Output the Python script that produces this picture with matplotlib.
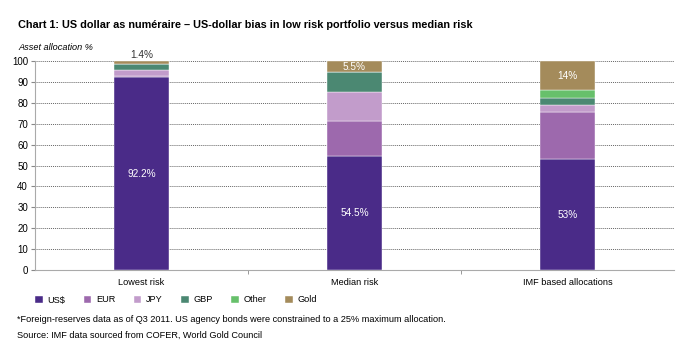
import matplotlib
matplotlib.use("Agg")
import matplotlib.pyplot as plt
import numpy as np

categories = ["Lowest risk", "Median risk", "IMF based allocations"]
series_names = ["US$", "EUR", "JPY", "GBP", "Other", "Gold"]
usd = [92.2, 54.5, 53.0]
eur = [0.6, 16.7, 22.5]
jpy = [2.7, 14.0, 3.5]
gbp = [3.1, 9.3, 3.2]
other = [0.0, 0.0, 3.8]
gold = [1.4, 5.5, 14.0]
bar_labels_usd = ["92.2%", "54.5%", "53%"]
bar_labels_gold = ["1.4%", "5.5%", "14%"]
colors = ["#4a2b88", "#9d69ad", "#c29ccb", "#4b8872", "#67c06b", "#a48b5b"]

plt.rcParams['font.family'] = ['Liberation Sans', 'DejaVu Sans']

fig = plt.figure(figsize=(7.0, 3.58), dpi=100)
ax = fig.add_axes([0.05, 0.2458, 0.913, 0.5838])

x = np.arange(len(categories))
data = [usd, eur, jpy, gbp, other, gold]
bottom = np.zeros(len(categories))
handles = []
for vals, c, name in zip(data, colors, series_names):
    h = ax.bar(x, vals, width=0.26, bottom=bottom, color=c, label=name,
               edgecolor="white", linewidth=0.3, zorder=3)
    handles.append(h)
    bottom += np.array(vals)

fs = 6.6
lfs = 7.2
for i in range(len(categories)):
    ax.text(x[i], usd[i] / 2, bar_labels_usd[i], ha="center", va="center",
            color="white", fontsize=lfs, zorder=4)
    top = usd[i] + eur[i] + jpy[i] + gbp[i] + other[i]
    if i == 0:
        ax.text(x[i], 100.6, bar_labels_gold[i], ha="center", va="bottom",
                color="#333333", fontsize=lfs, zorder=4)
    else:
        ax.text(x[i], top + gold[i] / 2, bar_labels_gold[i], ha="center",
                va="center", color="white", fontsize=lfs, zorder=4)

ax.set_xlim(-0.5, 2.5)
ax.set_ylim(0, 100)
ax.set_yticks(np.arange(0, 101, 10))
ax.yaxis.grid(True, linestyle=(0, (1, 1)), color="#666666", linewidth=0.7, zorder=0)
ax.set_xticks(x)
ax.set_xticklabels(categories, fontsize=fs)
ax.set_xticks([0.5, 1.5], minor=True)
ax.tick_params(axis="x", which="major", length=0, pad=6)
ax.tick_params(axis="x", which="minor", length=3, color="#888888")
ax.tick_params(axis="y", length=3, labelsize=7, color="#888888", pad=2)
for s in ["top", "right"]:
    ax.spines[s].set_visible(False)
for s in ["left", "bottom"]:
    ax.spines[s].set_color("#aaaaaa")
    ax.spines[s].set_linewidth(0.8)

fig.text(18 / 700, 1 - 25 / 358, "Chart 1: US dollar as numéraire – US-dollar bias in low risk portfolio versus median risk",
         fontsize=7.8, fontweight="bold", ha="left", va="center")
fig.text(18 / 700, 1 - 48 / 358, "Asset allocation %", fontsize=fs, style="italic", ha="left", va="center")

fig.legend(handles=handles, labels=series_names, loc="center left",
           bbox_to_anchor=(35 / 700, 1 - 300 / 358), ncol=6, frameon=False, fontsize=fs,
           handlelength=0.85, handleheight=0.85, handletextpad=0.5, columnspacing=2.0,
           borderpad=0, borderaxespad=0)

fig.text(17 / 700, 1 - 320 / 358, "*Foreign-reserves data as of Q3 2011. US agency bonds were constrained to a 25% maximum allocation.",
         fontsize=fs, ha="left", va="center")
fig.text(17 / 700, 1 - 335 / 358, "Source: IMF data sourced from COFER, World Gold Council",
         fontsize=fs, ha="left", va="center")

fig.savefig("out.png", dpi=100)
